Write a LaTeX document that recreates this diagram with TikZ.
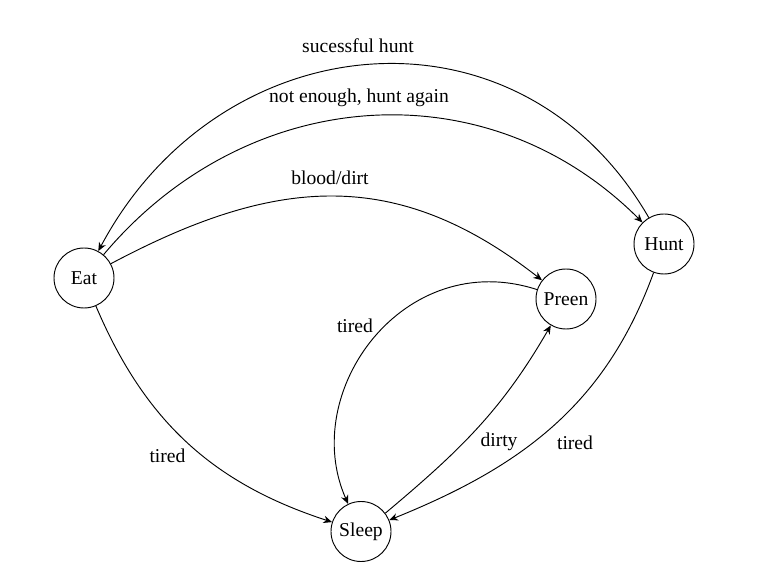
\documentclass[tikz,border=0pt]{standalone}
\usepackage{fontspec}
\setmainfont{Liberation Serif}
\newfontfamily\zustandfont{Liberation Serif}
\usetikzlibrary{arrows.meta}

\begin{document}
\begin{tikzpicture}[
  x=0.75pt, y=0.75pt,
  font=\zustandfont\fontsize{14.7}{17}\selectfont,
  zustand/.style={
    shape=circle,
    inner sep=0pt,
    minimum size=45pt,
    line width=0.7pt
  },
  pfeil/.style={
    line width=0.7pt, -{Stealth[length=6.5pt,width=5.6pt]}
  }
]
\useasboundingbox (0,0) rectangle (762,581);

\draw (84, 303) node [zustand,draw] (eat) {Eat};
\draw (664, 337) node [zustand,draw] (hunt) {Hunt};
\draw (566, 282) node [zustand,draw] (preen) {Preen};
\draw (361, 49.5) node [zustand,draw] (sleep) {Sleep};

% labels
\draw (358, 535) node (lsucc) {sucessful hunt};
\draw (359, 483) node (lagain) {not enough, hunt again};
\draw (330, 403) node (lblood) {blood/dirt};
\draw (355, 255) node (ltired1) {tired};
\draw (499, 139) node (ldirty) {dirty};
\draw (167.5, 125) node (ltired2) {tired};
\draw (575, 138) node (ltired3) {tired};

\path [pfeil]
      (hunt) edge[out=120, in=62, looseness=1.2] (eat)
      (eat) edge[out=50, in=135, looseness=1.05] (hunt)
      (eat) edge[out=28, in=142, looseness=1.1] (preen)
      (preen.162) edge[out=162, in=114, out looseness=1.25, in looseness=1.1] (sleep.115)
      (sleep.37) edge[out=40, in=240] (preen.240)
      (eat) edge[out=293, in=162] (sleep)
      (hunt) edge[out=250, in=22] (sleep);
\end{tikzpicture}
\end{document}
